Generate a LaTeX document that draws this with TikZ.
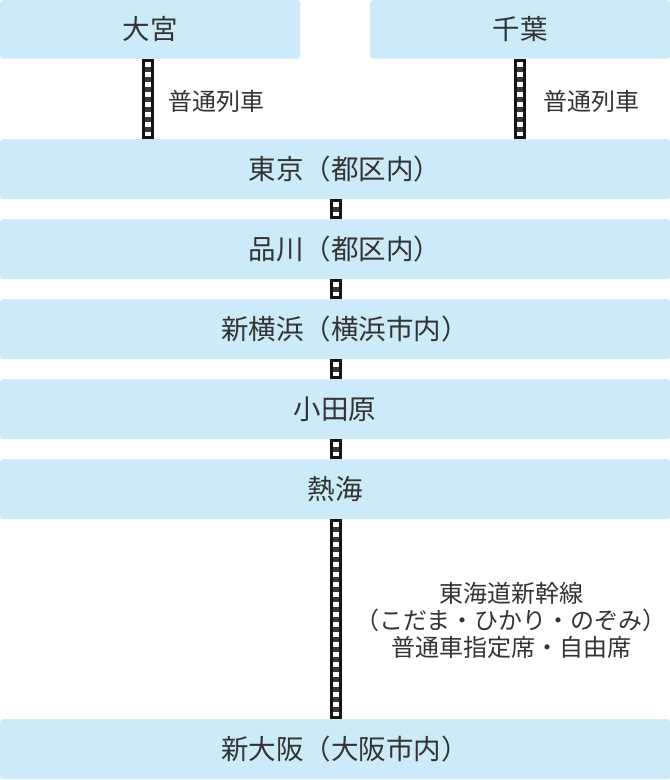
\documentclass[tikz,border=0pt]{standalone}
\usepackage{fontspec}
\setmainfont{Noto Sans CJK JP}
\definecolor{boxblue}{HTML}{CCEAF7}
\definecolor{txt}{HTML}{333333}
\definecolor{rail}{HTML}{141414}
\definecolor{rung}{HTML}{383838}
\newcommand{\trimend}{\kern-.7em\relax}
\tikzset{
  station/.style={rectangle, fill=boxblue, rounded corners=3pt, inner sep=0pt,
    anchor=north west, text=txt, font=\fontsize{27.5}{30}\selectfont},
  wide/.style={station, minimum width=670pt, minimum height=60pt},
  half/.style={station, minimum width=300pt, minimum height=58.5pt},
  lbl/.style={text=txt, font=\fontsize{24}{27}\selectfont, inner sep=0pt},
  track/.style={draw=rail, line width=11.5pt,
    postaction={draw=rung, line width=6.5pt, shorten <=3pt, shorten >=3pt},
    postaction={draw=white, line width=6.5pt, dash pattern=on 5pt off 5pt, dash phase=0pt, shorten <=3pt, shorten >=3pt}}
}
\begin{document}
\begin{tikzpicture}[x=1pt,y=1pt]
\useasboundingbox (0,0) rectangle (670,-780);
\node[half] (omiya) at (0,0) {大宮};
\node[half] (chiba) at (370,0) {千葉};
\node[wide] (tokyo) at (0,-139) {東京（都区内）\trimend};
\node[wide] (shinagawa) at (0,-219) {品川（都区内）\trimend};
\node[wide] (shinyoko) at (0,-299) {新横浜（横浜市内）\trimend};
\node[wide] (odawara) at (0,-379) {小田原};
\node[wide] (atami) at (0,-459) {熱海};
\node[wide] (shinosaka) at (0,-719) {新大阪（大阪市内）\trimend};

\coordinate (t1a) at (148,-58.5);
\coordinate (t1b) at (148,-139);
\coordinate (t2a) at (520,-58.5);
\coordinate (t2b) at (520,-139);
\draw[track] (t1a) -- (t1b);
\draw[track] (t2a) -- (t2b);
\draw[track] (tokyo.south -| 336,0) -- (shinagawa.north -| 336,0);
\draw[track] (shinagawa.south -| 336,0) -- (shinyoko.north -| 336,0);
\draw[track] (shinyoko.south -| 336,0) -- (odawara.north -| 336,0);
\draw[track] (odawara.south -| 336,0) -- (atami.north -| 336,0);
\draw[track] (atami.south -| 336,0) -- (shinosaka.north -| 336,0);

\node[lbl, anchor=west] (l1) at (168,-101) {普通列車};
\node[lbl, anchor=west] (l2) at (543,-101) {普通列車};
\node[lbl, align=center] (l3) at (511,-620) {東海道新幹線\\（こだま・ひかり・のぞみ）\\普通車指定席・自由席};
\end{tikzpicture}
\end{document}
